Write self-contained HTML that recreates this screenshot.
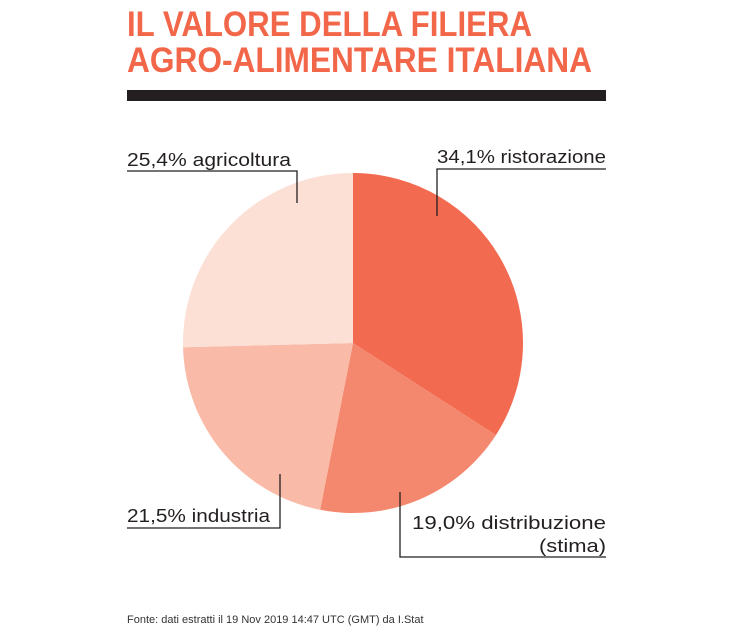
<!DOCTYPE html>
<html><head><meta charset="utf-8"><style>
html,body{margin:0;padding:0;background:#fff;}
svg{display:block;}
text{font-family:"Liberation Sans",sans-serif;}
</style></head><body>
<svg width="753" height="635" viewBox="0 0 753 635" xmlns="http://www.w3.org/2000/svg">
<text x="127" y="36" font-size="35" font-weight="bold" fill="#f26649" textLength="405" lengthAdjust="spacingAndGlyphs">IL VALORE DELLA FILIERA</text>
<text x="127" y="72" font-size="35" font-weight="bold" fill="#f26649" textLength="465" lengthAdjust="spacingAndGlyphs">AGRO-ALIMENTARE ITALIANA</text>
<rect x="127" y="90" width="479" height="11" fill="#231f20"/>
<g transform="translate(353,343)">
<path d="M0,0 L0,-170 A170,170 0 0 1 142.9,92.1 Z" fill="#f26a50"/>
<path d="M0,0 L142.9,92.1 A170,170 0 0 1 -32.9,166.8 Z" fill="#f4886e"/>
<path d="M0,0 L-32.9,166.8 A170,170 0 0 1 -169.95,4.3 Z" fill="#f9bba8"/>
<path d="M0,0 L-169.95,4.3 A170,170 0 0 1 0,-170 Z" fill="#fcdfd5"/>
</g>
<g fill="#231f20" font-size="18">
<text x="437" y="163" textLength="169" lengthAdjust="spacingAndGlyphs">34,1% ristorazione</text>
<text x="127" y="166" textLength="164" lengthAdjust="spacingAndGlyphs">25,4% agricoltura</text>
<text x="127" y="522" textLength="143" lengthAdjust="spacingAndGlyphs">21,5% industria</text>
<text x="412" y="529" textLength="194" lengthAdjust="spacingAndGlyphs">19,0% distribuzione</text>
<text x="539" y="552" textLength="67" lengthAdjust="spacingAndGlyphs">(stima)</text>
</g>
<g stroke="#231f20" stroke-width="1.3" fill="none">
<polyline points="606,169 437,169 437,216"/>
<polyline points="127,171 297,171 297,203"/>
<polyline points="127,528 280,528 280,474"/>
<polyline points="400,492 400,557 606,557"/>
</g>
<text x="127" y="623" font-size="11" fill="#333">Fonte: dati estratti il 19 Nov 2019 14:47 UTC (GMT) da I.Stat</text>
</svg>
</body></html>
